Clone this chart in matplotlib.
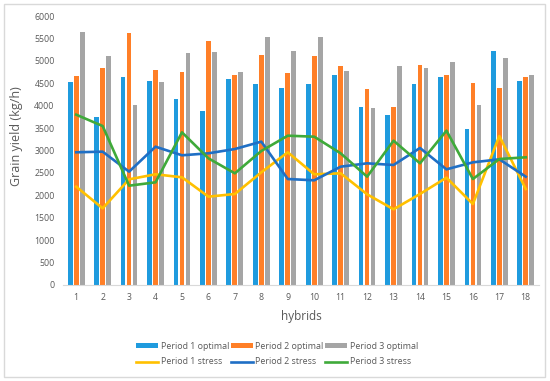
import numpy as np
import matplotlib
matplotlib.use("Agg")
import matplotlib.pyplot as plt
from matplotlib.patches import Rectangle

plt.rcParams['font.family'] = ['Open Sans', 'DejaVu Sans']

hybrids = [str(i) for i in range(1, 19)]

p1_optimal = [4535, 3740, 4647, 4543, 4156, 3881, 4595, 4490, 4401,
              4476, 4677, 3970, 3784, 4476, 4647, 3480, 5219, 4557]
p2_optimal = [4662, 4840, 5613, 4796, 4744, 5442, 4677, 5130, 4736,
              5108, 4885, 4372, 3963, 4907, 4677, 4506, 4401, 4632]
p3_optimal = [5636, 5115, 4021, 4535, 5175, 5190, 4744, 5532, 5219,
              5524, 4766, 3940, 4893, 4833, 4981, 4007, 5063, 4677]

p1_stress = [2193, 1710, 2357, 2469, 2402, 1970, 2030, 2513, 2960,
             2469, 2491, 2023, 1688, 2030, 2394, 1807, 3323, 2141]
p2_stress = [2960, 2974, 2528, 3085, 2893, 2937, 3033, 3197, 2364,
             2335, 2639, 2714, 2677, 3056, 2580, 2736, 2803, 2416]
p3_stress = [3799, 3546, 2215, 2290, 3405, 2825, 2491, 2989, 3330,
             3308, 2937, 2416, 3219, 2714, 3442, 2364, 2810, 2848]

grey = '#595959'

fig = plt.figure(figsize=(5.5, 3.81), dpi=100)
ax = fig.add_axes([0.1145, 0.252, 0.8655, 0.706])

x = np.arange(len(hybrids))
w = 0.18
step = 0.227
b1 = ax.bar(x - step, p1_optimal, w, color='#1F9BDE', label='Period 1 optimal')
b2 = ax.bar(x, p2_optimal, w, color='#FF7F27', label='Period 2 optimal')
b3 = ax.bar(x + step, p3_optimal, w, color='#A5A5A5', label='Period 3 optimal')

l1, = ax.plot(x, p1_stress, color='#FFC000', lw=1.9, label='Period 1 stress')
l2, = ax.plot(x, p2_stress, color='#1F6FC5', lw=1.9, label='Period 2 stress')
l3, = ax.plot(x, p3_stress, color='#3FAA3A', lw=1.9, label='Period 3 stress')

ax.set_xlim(-0.5, len(hybrids) - 0.5)
ax.set_ylim(0, 6000)
ax.set_yticks(np.arange(0, 6001, 500))
ax.set_xticks(x)
ax.set_xticklabels(hybrids)
ax.tick_params(axis='both', length=0, labelsize=6.3, labelcolor=grey)
ax.tick_params(axis='y', pad=6)
ax.tick_params(axis='x', pad=6)
for s in ['top', 'right', 'left']:
    ax.spines[s].set_visible(False)
ax.spines['bottom'].set_color('#D9D9D9')

ax.set_xlabel('hybrids', fontsize=8.5, color=grey)
ax.xaxis.set_label_coords(0.5, -0.093)
ax.set_ylabel('Grain yield (kg/h)', fontsize=9, color=grey)
ax.yaxis.set_label_coords(-0.084, 0.553)

handles = [b1, l1, b2, l2, b3, l3]
leg = ax.legend(handles, [h.get_label() for h in handles], ncol=3,
                loc='center', bbox_to_anchor=(277 / 550, 1 - 354 / 381),
                bbox_transform=fig.transFigure, frameon=False, fontsize=6.4,
                labelcolor=grey, handlelength=2.5, handleheight=0.45,
                columnspacing=0.2, handletextpad=0.25, labelspacing=0.75,
                borderpad=0)

fig.patches.append(Rectangle((4 / 550, 4 / 381), 541 / 550, 373 / 381,
                             transform=fig.transFigure, fill=False,
                             edgecolor='#D9D9D9', lw=1))

fig.savefig('out.png', dpi=100)
